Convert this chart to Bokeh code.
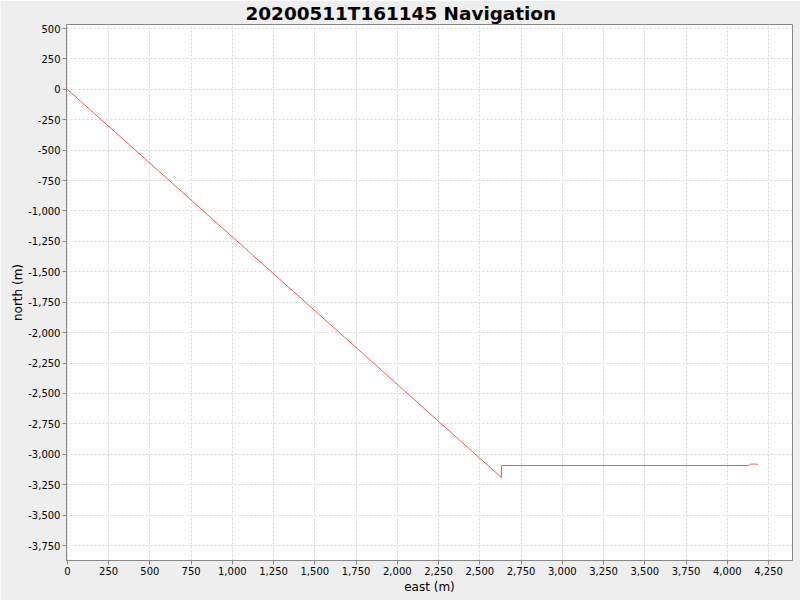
from bokeh.plotting import figure
from bokeh.models import FixedTicker, NumeralTickFormatter, Range1d
from bokeh.embed import file_html
from bokeh.resources import INLINE

# Track data (m)
east = [0, 2631, 2631, 4129, 4140, 4165, 4180, 4185]
north = [0, -3191, -3092, -3092, -3081, -3080, -3082, -3089]

x_ticks = list(range(0, 4251, 250))
y_ticks = list(range(-3750, 501, 250))

p = figure(width=800, height=600, output_backend="svg", toolbar_location=None,
           x_range=Range1d(-5, 4395), y_range=Range1d(-3873, 533),
           min_border_left=66, min_border_right=8, min_border_top=0, min_border_bottom=40)

p.title.text = "20200511T161145 Navigation"
p.title.align = "left"
p.title.text_font = "DejaVu Sans"
p.title.text_font_size = "18.4px"
p.title.text_font_style = "bold"
p.title.text_color = "#000000"
p.title.offset = 179
p.title.standoff = 1

p.border_fill_color = "#EEEEEE"
p.background_fill_color = "white"
p.outline_line_color = "#888888"

p.line(east, north, line_color="#FF5555", line_width=1)

for ax, ticks, lbl in ((p.xaxis[0], x_ticks, "east (m)"), (p.yaxis[0], y_ticks, "north (m)")):
    ax.ticker = FixedTicker(ticks=ticks)
    ax.formatter = NumeralTickFormatter(format="0,0")
    ax.axis_label = lbl
    ax.axis_label_text_font = "DejaVu Sans"
    ax.axis_label_text_font_size = "12px"
    ax.axis_label_text_font_style = "normal"
    ax.axis_label_text_color = "#000000"
    ax.major_label_text_font = "DejaVu Sans"
    ax.major_label_text_font_size = "10px"
    ax.major_label_text_color = "#000000"
    ax.axis_line_color = "#888888"
    ax.major_tick_line_color = "#888888"
    ax.major_tick_out = 4
    ax.major_tick_in = 0
    ax.minor_tick_line_color = None
    ax.major_label_standoff = 2
p.xaxis[0].axis_label_standoff = 2
p.yaxis[0].axis_label_standoff = 0

for g in (p.xgrid[0], p.ygrid[0]):
    g.grid_line_color = "#D8D8D8"
    g.grid_line_dash = "2 2"
    g.grid_line_width = 1
p.xgrid[0].ticker = FixedTicker(ticks=x_ticks)
p.ygrid[0].ticker = FixedTicker(ticks=y_ticks)

html = file_html(p, INLINE)
html = html.replace("<head>", "<head><style>html,body{margin:0;padding:0;}</style>", 1)
open("out.html", "w").write(html)
